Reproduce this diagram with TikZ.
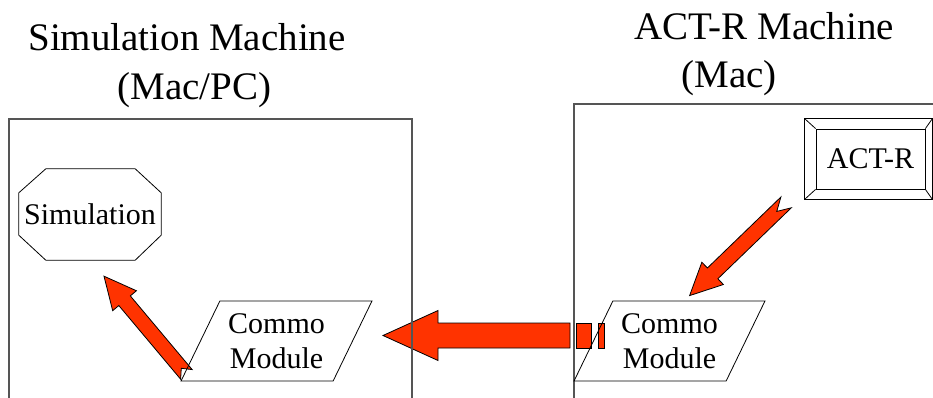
\documentclass[tikz,border=0pt]{standalone}
\usepackage{fontspec}
\setmainfont{Liberation Serif}
\usetikzlibrary{calc,shapes.geometric,backgrounds}

\definecolor{arrowred}{RGB}{255,51,0}
\definecolor{framegray}{RGB}{85,85,85}

% notched block arrow: tail, tip, notch depth
\newcommand{\notcharrow}[3]{%
  \coordinate (na-h) at ($(#2)!32pt!(#1)$);
  \draw[blockarrow] ($(#1)!7.5pt!90:(#2)$) -- ($(na-h)!7.5pt!90:(#2)$)
    -- ($(na-h)!15.5pt!90:(#2)$) -- (#2) -- ($(na-h)!15.5pt!-90:(#2)$)
    -- ($(na-h)!7.5pt!-90:(#2)$) -- ($(#1)!7.5pt!-90:(#2)$)
    -- ($(#1)!#3!(#2)$) -- cycle;}

\begin{document}
\begin{tikzpicture}[x=1pt, y=-1pt,
    title/.style={anchor=base, font=\fontsize{39}{47}\selectfont},
    boxtext/.style={font=\fontsize{30}{35}\selectfont, inner sep=0pt},
    machine/.style={draw=framegray, line width=1.3pt},
    shapeline/.style={draw, line width=0.8pt},
    commo/.style={boxtext, shapeline, trapezium, trapezium left angle=59,
      trapezium right angle=121, trapezium stretches=true,
      minimum width=191pt, minimum height=80pt, align=center},
    blockarrow/.style={fill=arrowred, draw=black, line width=0.8pt}]
  \useasboundingbox (0,0) rectangle (933,398);

  % titles
  \node[title] (simtitle) at (187,51) {Simulation Machine};
  \node[title] (simsub) at (194.5,100) {(Mac/PC)};
  \node[title] (acttitle) at (764,40) {ACT-R Machine};
  \node[title] (actsub) at (729,88) {(Mac)};

  % machine frames, open at the bottom
  \draw[machine] (9,399) -- (9,119) -- (412,119) -- (412,399);
  \draw[machine] (574,399) -- (574,104) -- (934,104);

  % simulation octagon
  \node[boxtext, minimum width=142pt, minimum height=91pt] (sim) at (90,214.5) {Simulation};
  \draw[shapeline] ([xshift=27pt]sim.north west) -- ([xshift=-26pt]sim.north east)
    -- ([yshift=-24pt]sim.north east) -- ([yshift=25pt]sim.south east)
    -- ([xshift=-26pt]sim.south east) -- ([xshift=27pt]sim.south west)
    -- ([yshift=25pt]sim.south west) -- ([yshift=-24pt]sim.north west) -- cycle;

  % commo modules
  \node[commo] (cmL) at (276.5,341) {Commo\\Module};
  \node[commo] (cmR) at (669.5,341) {Commo\\Module};

  % act-r with bevelled frame
  \node[boxtext, shapeline, minimum width=109pt, minimum height=60pt] (actr) at (870.5,159) {ACT-R};
  \draw[shapeline] ([shift={(-11pt,10pt)}]actr.north west) rectangle ([shift={(7pt,-10pt)}]actr.south east);
  \draw[shapeline] (actr.north west) -- ++(-11pt,10pt) (actr.north east) -- ++(7pt,10pt)
    (actr.south east) -- ++(7pt,-10pt) (actr.south west) -- ++(-11pt,-10pt);

  % arrow ends
  \coordinate (a1-tail) at ($(cmL.bottom left corner)+(6,-7)$);
  \coordinate (a1-tip) at ($(sim.south)+(14,16)$);
  \coordinate (a2-tail) at ($(actr.south west)+(-29.5,13)$);
  \coordinate (a2-tip) at ($(cmR.top left corner)!0.5!(cmR.top right corner)+(0.5,-5)$);
  \coordinate (a3-tail) at ($(cmR.center)+(-65.5,-5.5)$);
  \coordinate (a3-tip) at ($(cmL.center)+(106.5,-5.5)$);

  \begin{scope}[on background layer]
    \notcharrow{a1-tail}{a1-tip}{8pt}
    \notcharrow{a2-tail}{a2-tip}{13pt}
    % striped arrow between the modules
    \draw[blockarrow] (a3-tip) -- ++(55,-25) -- ++(0,12.5) -- ($(a3-tail)+(-34,-12.5)$)
      -- ++(0,25) -- ($(a3-tip)+(55,12.5)$) -- ++(0,12.5) -- cycle;
    \draw[blockarrow] ($(a3-tail)+(-28,-12.5)$) rectangle ++(15,25);
    \draw[blockarrow] ($(a3-tail)+(-6,-12.5)$) rectangle ++(6,25);
  \end{scope}
\end{tikzpicture}
\end{document}
